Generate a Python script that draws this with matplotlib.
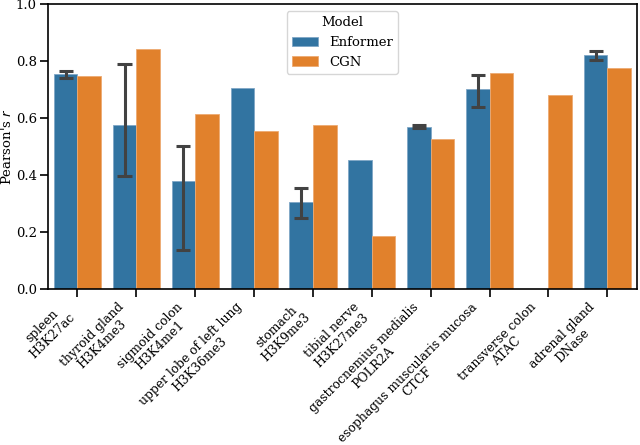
import matplotlib
matplotlib.use("Agg")
import matplotlib.pyplot as plt
import numpy as np

# data
tissues = ["spleen\nH3K27ac", "thyroid gland\nH3K4me3", "sigmoid colon\nH3K4me1",
           "upper lobe of left lung\nH3K36me3", "stomach\nH3K9me3", "tibial nerve\nH3K27me3",
           "gastrocnemius medialis\nPOLR2A", "esophagus muscularis mucosa\nCTCF",
           "transverse colon\nATAC", "adrenal gland\nDNase"]
enformer = [0.755, 0.575, 0.379, 0.705, 0.308, 0.455, 0.570, 0.703, np.nan, 0.822]
enf_lo = [0.741, 0.397, 0.139, np.nan, 0.251, np.nan, 0.565, 0.640, np.nan, 0.805]
enf_hi = [0.767, 0.791, 0.503, np.nan, 0.354, np.nan, 0.577, 0.753, np.nan, 0.838]
cgn = [0.748, 0.842, 0.614, 0.556, 0.577, 0.186, 0.526, 0.760, 0.682, 0.778]

plt.rcParams['font.family'] = 'DejaVu Serif'
plt.rcParams['font.size'] = 9.5

fig, ax = plt.subplots(figsize=(6.4, 4.45), dpi=100)
x = np.arange(len(tissues))
w = 0.4
ax.bar(x - w/2, enformer, w, color="#3274a1", edgecolor="#7fa6c6", linewidth=0.6, label="Enformer")
ax.bar(x + w/2, cgn, w, color="#e1812c", edgecolor="#edaa72", linewidth=0.6, label="CGN")

# error bars on Enformer
for i in range(len(tissues)):
    if not np.isnan(enf_lo[i]):
        ax.plot([x[i] - w/2]*2, [enf_lo[i], enf_hi[i]], color="#424242", lw=2.2, solid_capstyle="butt")
        for yv in (enf_lo[i], enf_hi[i]):
            ax.plot([x[i] - w/2 - 0.12, x[i] - w/2 + 0.12], [yv, yv], color="#424242", lw=2.2, solid_capstyle="butt")

ax.set_xlim(-0.5, len(tissues) - 0.5)
ax.set_ylim(0, 1.0)
ax.set_xticks(x)
ax.set_xticklabels(tissues, rotation=45, ha="right", multialignment="center",
                   linespacing=1.1, fontsize=8.9)
ax.set_yticks([0, 0.2, 0.4, 0.6, 0.8, 1.0])
ax.tick_params(length=6, width=1.2, pad=2)
for s in ax.spines.values():
    s.set_linewidth(1.2)
ax.set_ylabel("Pearson's $r$", labelpad=1)
ax.legend(title="Model", loc="upper center")

fig.subplots_adjust(left=0.075, right=0.995, top=0.99, bottom=0.35)
fig.savefig("out.png")
